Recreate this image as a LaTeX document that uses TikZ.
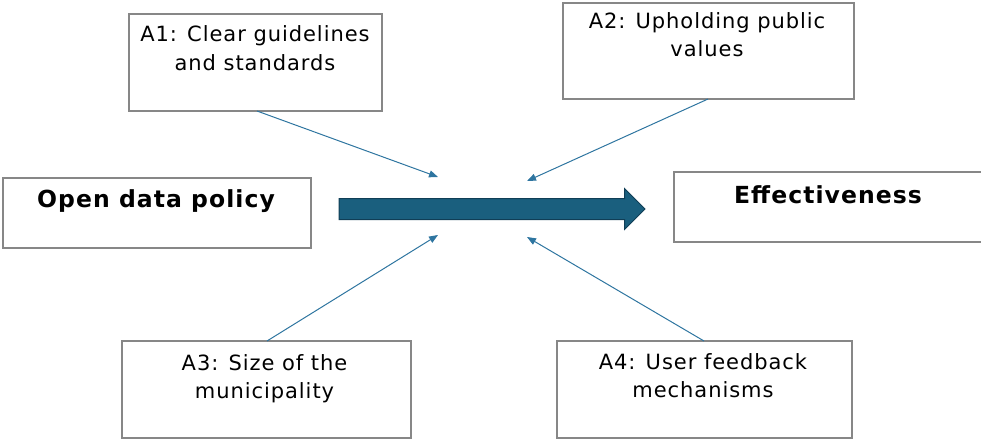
\documentclass[tikz,border=0pt]{standalone}
\usepackage{fontspec}
\setmainfont{DejaVu Sans}[LetterSpace=4.5]
\newfontfamily\boldfam{DejaVu Sans Bold}[LetterSpace=4.5]
\usetikzlibrary{arrows.meta,shapes.arrows}
\definecolor{flowfill}{RGB}{26,95,126}
\definecolor{flowline}{RGB}{16,62,86}
\definecolor{linkblue}{RGB}{46,117,160}
\definecolor{boxgray}{RGB}{135,135,135}
\newcommand\twoline[2]{\begin{tabular}[t]{@{}c@{}}#1\\#2\end{tabular}}
\begin{document}
\begin{tikzpicture}[x=1pt,y=-1pt,
  box/.style={draw=boxgray, line width=1.2pt},
  lbl/.style={inner sep=0, anchor=base, font=\fontsize{21}{28.5}\selectfont},
  bold/.style={inner sep=0, anchor=base, font=\fontsize{23.5}{28}\boldfam},
  link/.style={draw=linkblue, line width=1pt, -{Triangle[length=9pt,width=7pt]}},
  flow/.style={single arrow, draw=flowline, fill=flowfill, line width=1pt,
    minimum height=306pt, minimum width=40pt, single arrow head extend=10pt,
    single arrow head indent=0pt, inner xsep=0pt, inner ysep=10pt, outer sep=0}]
\useasboundingbox (0,0) rectangle (981,439);
% boxes
\path[box] (129,14) rectangle (382,111);
\coordinate (a1) at (255.5,111);
\path[box] (563,3) rectangle (854,99);
\coordinate (a2) at (708.5,99);
\path[box] (3,178) rectangle (311,248);
\path[box] (674,172) rectangle (985,242);
\path[box] (122,341) rectangle (411,438);
\coordinate (a3) at (266.5,341);
\path[box] (557,341) rectangle (852,438);
\coordinate (a4) at (704.5,341);
% texts
\node[lbl] (a1t) at (255,41.7) {\twoline{A1: Clear guidelines}{and standards}};
\node[lbl] (a2t) at (707,28.3) {\twoline{A2: Upholding public}{values}};
\node[lbl] (a3t) at (264.5,370) {\twoline{A3: Size of the}{municipality}};
\node[lbl] (a4t) at (703,369) {\twoline{A4: User feedback}{mechanisms}};
\node[bold] (odp) at (156,207) {Open data policy};
\node[bold] (eff) at (828,203) {Effectiveness};
% main arrow
\node[flow, anchor=tail] (main) at (339,209) {};
% targets
\coordinate (t1) at (438,177);
\coordinate (t2) at (527,181);
\coordinate (t3) at (438,235);
\coordinate (t4) at (527,237);
\draw[link] ([xshift=1.5pt]a1) -- (t1);
\draw[link] ([xshift=-0.5pt]a2) -- (t2);
\draw[link] ([xshift=0.5pt]a3) -- (t3);
\draw[link] ([xshift=-0.5pt]a4) -- (t4);
\end{tikzpicture}
\end{document}
